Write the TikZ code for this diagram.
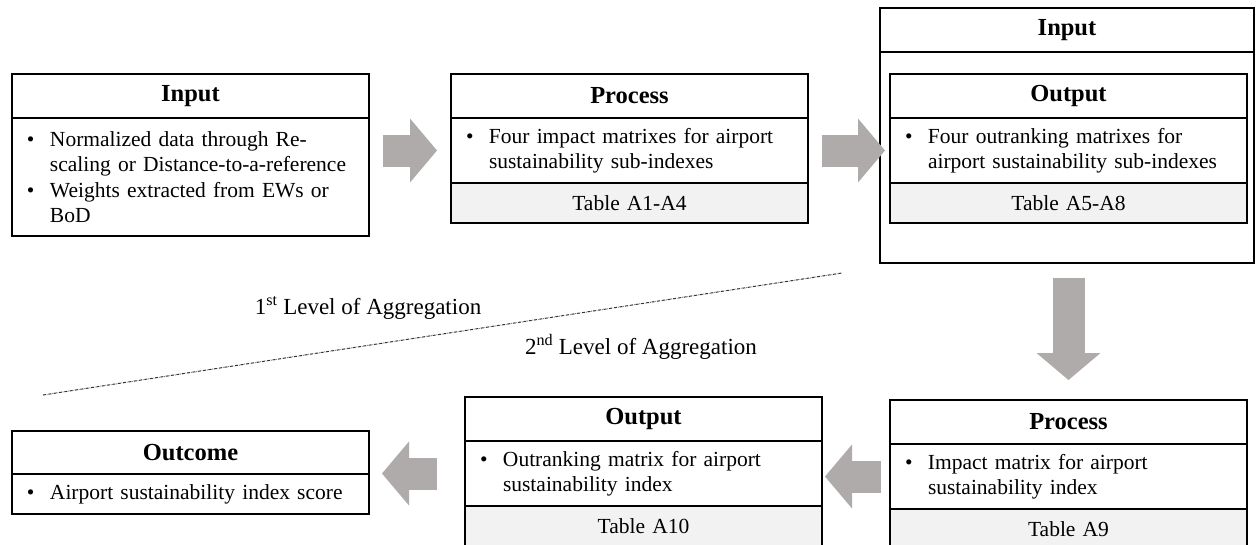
\documentclass[tikz,border=0pt]{standalone}
\usepackage{fontspec}
\setmainfont{Liberation Serif}
\usetikzlibrary{positioning, arrows.meta}
\definecolor{arrowgray}{RGB}{175,171,171}
\definecolor{tablegray}{RGB}{242,242,242}
\newcommand{\bul}{\makebox[23pt][l]{\textbullet}}
\newcommand{\ind}{\hspace*{23pt}}
\tikzset{
  box/.style={draw, line width=1.2pt, outer sep=0pt, minimum width=357pt, text width=327pt, inner xsep=15pt, inner ysep=0pt},
  head/.style={box, align=center, font=\fontsize{24.5}{29}\selectfont\bfseries, minimum height=44pt},
  body/.style={box, align=left, font=\fontsize{21.5}{25.5}\selectfont, minimum height=65pt},
  tab/.style={box, align=center, fill=tablegray, font=\fontsize{21.5}{25.5}\selectfont, minimum height=40pt},
  blockarrow/.style={draw=arrowgray, line width=32pt, -{Triangle[length=27pt, width=64pt, line width=0pt]}},
  lab/.style={font=\fontsize{23}{27}\selectfont, inner sep=0pt}
}
\begin{document}
\begin{tikzpicture}[x=1pt, y=-1pt]
\useasboundingbox (0,0) rectangle (1256,544);
\node[head, anchor=north west] (in1) at (12,74) {Input};
\node[body, below=0pt of in1, minimum height=118pt] (in1b) {\bul Normalized data through Re-\\\ind scaling or Distance-to-a-reference\\\bul Weights extracted from EWs or\\\ind BoD};
\node[head, anchor=north west] (pr1) at (451,74) {Process};
\node[body, below=0pt of pr1] (pr1b) {\bul Four impact matrixes for airport\\\ind sustainability sub-indexes};
\node[tab, below=0pt of pr1b] (pr1t) {Table A1-A4};
\node[head, anchor=north west, minimum width=374pt, text width=344pt] (in2) at (880,8) {Input};
\node[box, below=0pt of in2, minimum width=374pt, text width=344pt, minimum height=211pt] (in2b) {};
\node[head, below right=22pt and 10pt of in2b.north west] (out1) {Output};
\node[body, below=0pt of out1] (out1b) {\bul Four outranking matrixes for\\\ind airport sustainability sub-indexes};
\node[tab, below=0pt of out1b] (out1t) {Table A5-A8};
\node[head, anchor=north west] (pr2) at (890,400) {Process};
\node[body, below=0pt of pr2] (pr2b) {\bul Impact matrix for airport\\\ind sustainability index};
\node[tab, below=0pt of pr2b] (pr2t) {Table A9};
\node[head, anchor=north west] (out2) at (465,397) {Output};
\node[body, below=0pt of out2] (out2b) {\bul Outranking matrix for airport\\\ind sustainability index};
\node[tab, below=0pt of out2b] (out2t) {Table A10};
\node[head, anchor=north west, minimum height=43pt] (oc) at (12,431) {Outcome};
\node[body, below=0pt of oc, minimum height=40pt] (ocb) {\bul Airport sustainability index score};
\coordinate (l1) at (43,395);
\coordinate (l2) at (842,273);
\draw[densely dash dot, line width=1pt, black!80] (l1) -- (l2);
\node[lab] (lev1) at (368,308) {1\textsuperscript{st} Level of Aggregation};
\node[lab] (lev2) at (641,347) {2\textsuperscript{nd} Level of Aggregation};
\draw[blockarrow, shorten <=14pt, shorten >=14pt] (in1.east |- pr1b.west) -- (pr1b.west);
\draw[blockarrow, shorten <=14pt, shorten >=5pt] (pr1b.east) -- (out1b.west);
\draw[blockarrow, shorten <=15pt, shorten >=20pt] (pr2.north |- in2b.south) -- (pr2.north);
\draw[blockarrow, shorten <=9pt, shorten >=3pt] (pr2b.west) -- (out2b.east |- pr2b.west);
\draw[blockarrow, shorten <=28pt, shorten >=13pt] (out2b.west) -- (oc.east |- out2b.west);
\end{tikzpicture}
\end{document}
